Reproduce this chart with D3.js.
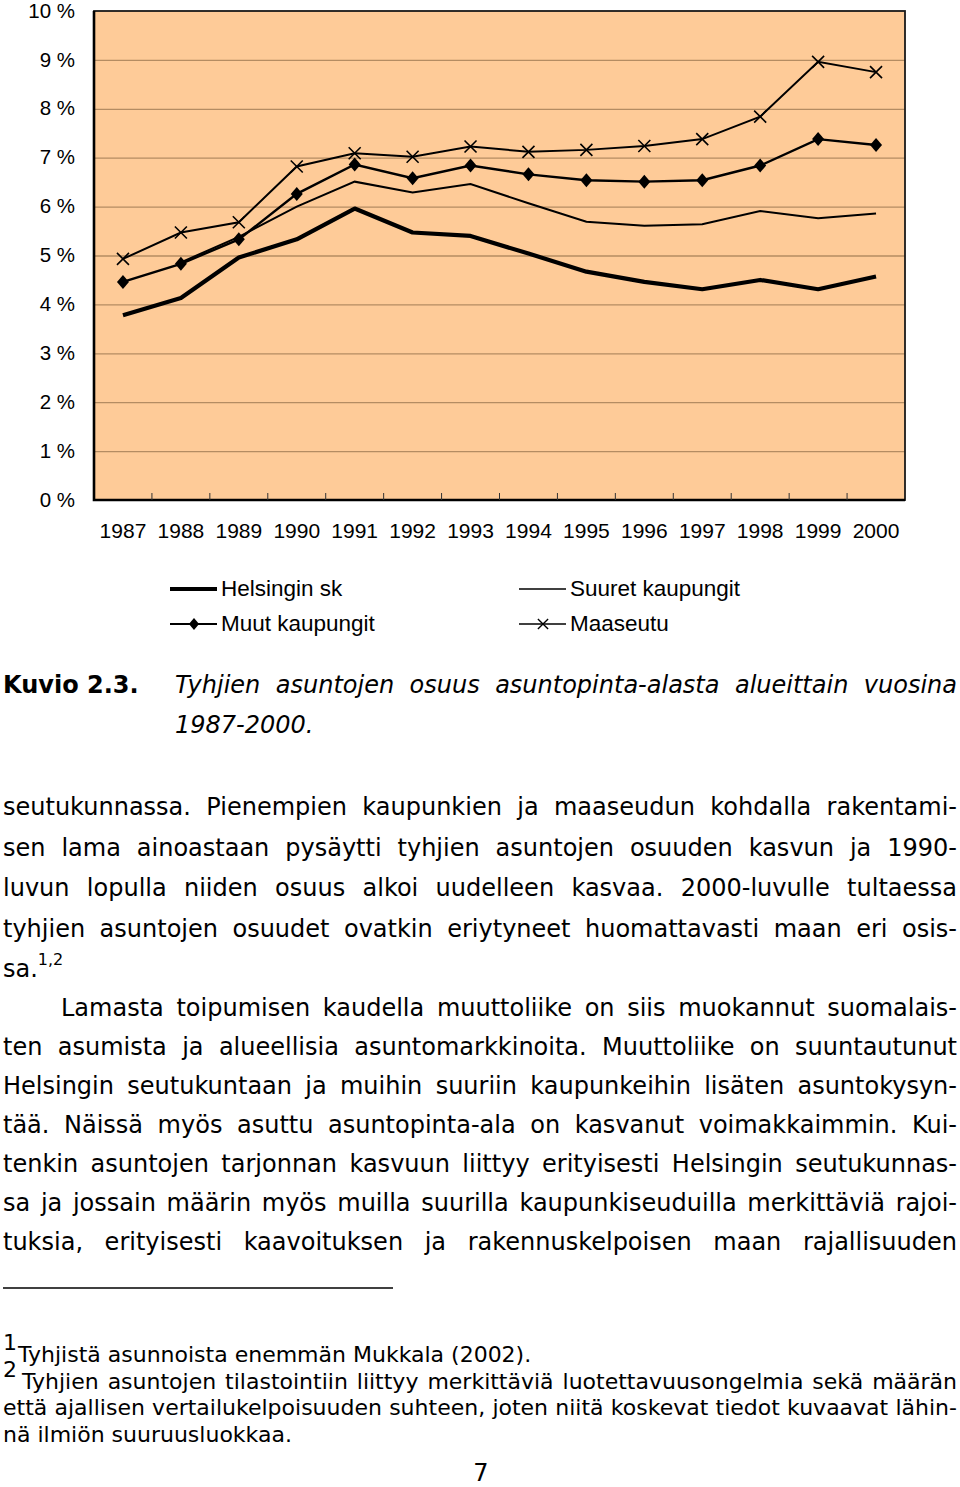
<!DOCTYPE html>
<html lang="fi">
<head>
<meta charset="UTF-8">
<title>Kuvio 2.3</title>
<script src="https://d3js.org/d3.v7.min.js"></script>
<style>
  body { margin: 0; background: #fff; }
  svg { display: block; }
  .axis text { font-family: "Liberation Sans", Arial, sans-serif; fill: #000; }
  .axis path, .axis line { stroke: none; }
  .grid line { stroke: #b48c62; stroke-width: 1.3; }
  .grid path { stroke: none; }
  .legend text { font-family: "Liberation Sans", Arial, sans-serif; font-size: 22.5px; }
  .body text { font-family: "DejaVu Sans", Verdana, sans-serif; font-size: 24px; fill: #000; }
  .foot text { font-family: "DejaVu Sans", Verdana, sans-serif; font-size: 22px; fill: #000; }
</style>
</head>
<body>
<svg width="960" height="1487"></svg>
<script>
// values, %
const years = ["1987","1988","1989","1990","1991","1992","1993","1994","1995","1996","1997","1998","1999","2000"];
const helsinki = [3.78, 4.13, 4.96, 5.33, 5.96, 5.47, 5.40, 5.04, 4.67, 4.46, 4.31, 4.50, 4.31, 4.57];
const suuret   = [null, 4.86, 5.38, 6.00, 6.51, 6.29, 6.46, 6.07, 5.69, 5.61, 5.64, 5.91, 5.76, 5.86];
const muut     = [4.46, 4.83, 5.33, 6.26, 6.86, 6.58, 6.84, 6.66, 6.54, 6.51, 6.54, 6.84, 7.38, 7.26];
const maaseutu = [4.93, 5.47, 5.68, 6.82, 7.09, 7.02, 7.23, 7.12, 7.16, 7.24, 7.38, 7.84, 8.96, 8.75];
const yTicks = [0, 1, 2, 3, 4, 5, 6, 7, 8, 9, 10];

const seriesNames = ["Helsingin sk", "Suuret kaupungit", "Muut kaupungit", "Maaseutu"];

const caption = ["Tyhjien asuntojen osuus asuntopinta-alasta alueittain vuosina", "1987-2000."];
const para1 = [
  "seutukunnassa. Pienempien kaupunkien ja maaseudun kohdalla rakentami-",
  "sen lama ainoastaan pysäytti tyhjien asuntojen osuuden kasvun ja 1990-",
  "luvun lopulla niiden osuus alkoi uudelleen kasvaa. 2000-luvulle tultaessa",
  "tyhjien asuntojen osuudet ovatkin eriytyneet huomattavasti maan eri osis-",
  "sa."
];
const para2 = [
  "Lamasta toipumisen kaudella muuttoliike on siis muokannut suomalais-",
  "ten asumista ja alueellisia asuntomarkkinoita. Muuttoliike on suuntautunut",
  "Helsingin seutukuntaan ja muihin suuriin kaupunkeihin lisäten asuntokysyn-",
  "tää. Näissä myös asuttu asuntopinta-ala on kasvanut voimakkaimmin. Kui-",
  "tenkin asuntojen tarjonnan kasvuun liittyy erityisesti Helsingin seutukunnas-",
  "sa ja jossain määrin myös muilla suurilla kaupunkiseuduilla merkittäviä rajoi-",
  "tuksia, erityisesti kaavoituksen ja rakennuskelpoisen maan rajallisuuden"
];
const notes = [
  "Tyhjistä asunnoista enemmän Mukkala (2002).",
  "Tyhjien asuntojen tilastointiin liittyy merkittäviä luotettavuusongelmia sekä määrän",
  "että ajallisen vertailukelpoisuuden suhteen, joten niitä koskevat tiedot kuvaavat lähin-",
  "nä ilmiön suuruusluokkaa."
];

const svg = d3.select("svg");
const plot = {left: 94, right: 905, top: 11, bottom: 500};

const x = d3.scaleBand().domain(years).range([plot.left, plot.right]);
const y = d3.scaleLinear().domain([0, 10]).range([plot.bottom, plot.top]);
const cx = d => x(d) + x.bandwidth() / 2;

// background
svg.append("rect")
  .attr("x", plot.left).attr("y", plot.top)
  .attr("width", plot.right - plot.left).attr("height", plot.bottom - plot.top)
  .attr("fill", "#fecb98");

svg.append("g").attr("class", "grid")
  .attr("transform", `translate(${plot.left},0)`)
  .call(d3.axisLeft(y).tickValues(yTicks.slice(1, -1)).tickSize(-(plot.right - plot.left)).tickFormat(""));

// border
svg.append("rect")
  .attr("x", plot.left).attr("y", plot.top)
  .attr("width", plot.right - plot.left).attr("height", plot.bottom - plot.top)
  .attr("fill", "none").attr("stroke", "#1a1a1a").attr("stroke-width", 1.8);
svg.append("path")
  .attr("d", `M${plot.left},${plot.top}V${plot.bottom}H${plot.right}`)
  .attr("fill", "none").attr("stroke", "#000").attr("stroke-width", 2.6);

// inner ticks between categories
svg.append("g").selectAll("line").data(years.slice(1)).join("line")
  .attr("x1", d => x(d)).attr("x2", d => x(d))
  .attr("y1", plot.bottom).attr("y2", plot.bottom - 7)
  .attr("stroke", "#333").attr("stroke-width", 1);

svg.append("g").attr("class", "axis")
  .attr("transform", `translate(${plot.left},0)`)
  .call(d3.axisLeft(y).tickValues(yTicks).tickSize(0).tickPadding(19).tickFormat(d => d + " %"))
  .call(g => g.selectAll("text").attr("font-size", 20.5).attr("dy", "0.3em"));

svg.append("g").attr("class", "axis")
  .attr("transform", `translate(0,${plot.bottom})`)
  .call(d3.axisBottom(x).tickSize(0).tickPadding(23))
  .call(g => g.selectAll("text").attr("font-size", 21));

// series
const line = d3.line().defined(d => d != null).x((d, i) => cx(years[i])).y(d => y(d));

svg.append("path").datum(suuret).attr("d", line)
  .attr("fill", "none").attr("stroke", "#000").attr("stroke-width", 2);
svg.append("path").datum(helsinki).attr("d", line)
  .attr("fill", "none").attr("stroke", "#000").attr("stroke-width", 4.2).attr("stroke-linejoin", "round");
svg.append("path").datum(muut).attr("d", line)
  .attr("fill", "none").attr("stroke", "#000").attr("stroke-width", 2.4);
svg.append("path").datum(maaseutu).attr("d", line)
  .attr("fill", "none").attr("stroke", "#000").attr("stroke-width", 2);

const diamond = "M0,-7L6,0L0,7L-6,0Z";
const cross = "M-6,-6L6,6M-6,6L6,-6";

svg.append("g").selectAll("path").data(muut).join("path")
  .attr("transform", (d, i) => `translate(${cx(years[i])},${y(d)})`)
  .attr("d", diamond).attr("fill", "#000");
svg.append("g").selectAll("path").data(maaseutu).join("path")
  .attr("transform", (d, i) => `translate(${cx(years[i])},${y(d)})`)
  .attr("d", cross).attr("stroke", "#000").attr("stroke-width", 1.6).attr("fill", "none");

// legend
const leg = svg.append("g").attr("class", "legend");
const legPos = [[170, 589], [519, 589], [170, 624], [519, 624]];
legPos.forEach(([lx, ly], i) => {
  const g = leg.append("g").attr("transform", `translate(${lx},${ly})`);
  g.append("line").attr("x1", 0).attr("x2", 47).attr("y1", 0).attr("y2", 0)
    .attr("stroke", "#000").attr("stroke-width", [4, 1.5, 2, 1.5][i]);
  if (i === 2) g.append("path").attr("d", diamond).attr("transform", "translate(24,0) scale(0.85)");
  if (i === 3) g.append("path").attr("d", cross).attr("transform", "translate(24,0) scale(0.85)")
    .attr("stroke", "#000").attr("stroke-width", 1.6);
  g.append("text").attr("x", 51).attr("y", 7).text(seriesNames[i]);
});

// text helpers: justified lines are laid out word by word
function textLine(g, str, x0, yb, width, size) {
  const t = g.append("text").attr("y", yb);
  if (size) t.attr("font-size", size);
  if (!width) { t.attr("x", x0).text(str); return t; }
  const words = str.split(" ");
  const spans = words.map(w => t.append("tspan").text(w));
  const ws = spans.map(s => s.node().getComputedTextLength());
  const gap = (width - d3.sum(ws)) / (words.length - 1);
  let cur = x0;
  spans.forEach((s, i) => { s.attr("x", cur); cur += ws[i] + gap; });
  return t;
}

const body = svg.append("g").attr("class", "body");
const capG = body.append("g");
capG.append("text").attr("x", 3).attr("y", 693).attr("font-weight", "bold").text("Kuvio 2.3.");
const capItal = capG.append("g").attr("font-style", "italic");
textLine(capItal, caption[0], 175, 693, 957 - 175);
textLine(capItal, caption[1], 175, 733);

para1.forEach((s, i) => {
  const t = textLine(body, s, 3, 815 + i * 40.5, i < 4 ? 954 : null);
  if (i === 4) t.append("tspan").attr("dy", -12).attr("font-size", 16).text("1,2");
});
para2.forEach((s, i) => {
  const x0 = i === 0 ? 61 : 3;
  textLine(body, s, x0, 1016 + i * 39, 957 - x0);
});

// footnote rule
svg.append("line").attr("x1", 3).attr("x2", 393).attr("y1", 1288).attr("y2", 1288)
  .attr("stroke", "#000").attr("stroke-width", 1.5);

const foot = svg.append("g").attr("class", "foot");
foot.append("text").attr("x", 3).attr("y", 1350).attr("font-size", 13).text("1");
textLine(foot, notes[0], 18, 1362);
foot.append("text").attr("x", 3).attr("y", 1377).attr("font-size", 13).text("2");
textLine(foot, notes[1], 22, 1389, 957 - 22);
textLine(foot, notes[2], 3, 1415, 954);
textLine(foot, notes[3], 3, 1442);

body.append("text").attr("x", 481).attr("y", 1481).attr("text-anchor", "middle").text("7");
</script>
</body>
</html>
